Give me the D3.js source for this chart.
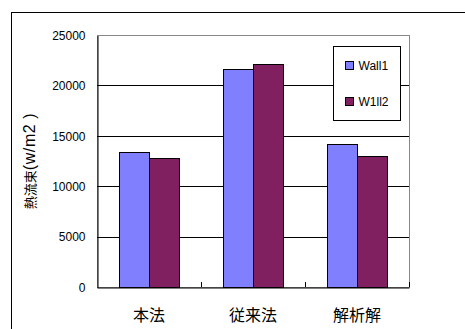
<!DOCTYPE html>
<html>
<head>
<meta charset="utf-8">
<script src="https://cdn.jsdelivr.net/npm/d3@7"></script>
<style>
  body { margin: 0; background: #fff; }
  svg { display: block; font-family: "Liberation Sans", Arial, sans-serif; }
</style>
</head>
<body>
<svg width="465" height="329"></svg>
<script>
// data
let categories = ['本法', '従来法', '解析解'];
let seriesNames = ['Wall1', 'W1ll2'];
let wall1 = [13420, 21600, 14150];
let w1ll2 = [12800, 22100, 13000];
let yTicks = [0, 5000, 10000, 15000, 20000, 25000];
let colors = ['#8080ff', '#802060'];

let svg = d3.select('svg');

// outer chart frame (runs off the right and bottom of the picture)
svg.append('rect')
  .attr('x', 11.5).attr('y', 12.5)
  .attr('width', 470).attr('height', 340)
  .attr('fill', 'none').attr('stroke', '#000');

let plot = { left: 97, right: 409, top: 35, bottom: 287 };

let x = d3.scaleBand()
  .domain(categories)
  .range([plot.left, plot.right]);

let xInner = d3.scaleBand()
  .domain(seriesNames)
  .range([0, x.bandwidth()])
  .paddingInner(0)
  .paddingOuter(0.7333);

let y = d3.scaleLinear()
  .domain([0, 25000])
  .range([plot.bottom, plot.top]);

let g = svg.append('g');

// plot border (grey top/right)
g.append('rect')
  .attr('x', plot.left + 0.5).attr('y', plot.top + 0.5)
  .attr('width', plot.right - plot.left).attr('height', plot.bottom - plot.top)
  .attr('fill', 'none').attr('stroke', '#888');

// gridlines
g.selectAll('.grid')
  .data(yTicks.filter(d => d > 0))
  .join('line')
    .attr('x1', plot.left).attr('x2', plot.right)
    .attr('y1', d => Math.round(y(d)) + 0.5)
    .attr('y2', d => Math.round(y(d)) + 0.5)
    .attr('stroke', d => d === 25000 ? '#888' : '#000');

// bars
let rows = categories.map((c, i) => ({ cat: c, values: [wall1[i], w1ll2[i]] }));

g.selectAll('.grp')
  .data(rows)
  .join('g')
    .attr('transform', d => `translate(${x(d.cat)},0)`)
  .selectAll('rect')
  .data(d => d.values.map((v, j) => ({ name: seriesNames[j], value: v, j: j })))
  .join('rect')
    .attr('x', d => Math.round(xInner(d.name)) + 0.5)
    .attr('y', d => Math.round(y(d.value)) + 0.5)
    .attr('width', Math.round(xInner.bandwidth()))
    .attr('height', d => plot.bottom - Math.round(y(d.value)))
    .attr('fill', d => colors[d.j])
    .attr('stroke', '#000')
    .attr('stroke-width', 1);

// y axis
let yAxis = g.append('g')
  .attr('transform', `translate(${plot.left + 0.5},0.5)`)
  .call(d3.axisLeft(y).tickValues(yTicks).tickSize(0).tickPadding(12).tickFormat(d3.format('d')));
yAxis.select('.domain').attr('stroke', '#000');
yAxis.selectAll('text')
  .attr('font-size', 12)
  .attr('fill', '#000')
  .attr('font-family', '"Liberation Sans", Arial, sans-serif');

// x axis with inward ticks at category boundaries
let xAxis = g.append('g')
  .attr('transform', `translate(0,${plot.bottom + 0.5})`)
  .call(d3.axisBottom(x).tickSize(0).tickPadding(22));
xAxis.select('.domain').attr('stroke', '#000');
xAxis.selectAll('text')
  .attr('font-size', 16)
  .attr('fill', '#000')
  .attr('font-family', '"Noto Sans CJK JP", sans-serif');

g.selectAll('.xtick')
  .data(categories.slice(1).concat(['end']))
  .join('line')
    .attr('x1', (d, i) => plot.left + x.step() * (i + 1) + 0.5)
    .attr('x2', (d, i) => plot.left + x.step() * (i + 1) + 0.5)
    .attr('y1', plot.bottom)
    .attr('y2', plot.bottom - 5)
    .attr('stroke', '#000');

// y axis title
let title = svg.append('text')
  .attr('transform', 'translate(35,161) rotate(-90)')
  .attr('text-anchor', 'middle');
title.append('tspan')
  .attr('font-size', 13)
  .attr('font-family', '"Noto Sans CJK JP", sans-serif')
  .text('熱流束');
title.append('tspan')
  .attr('font-size', 16)
  .attr('letter-spacing', 0.6)
  .attr('font-family', '"Liberation Sans", Arial, sans-serif')
  .text('(w/m2 )');

// legend
let legend = svg.append('g').attr('transform', 'translate(333.5,46.5)');
legend.append('rect')
  .attr('width', 67).attr('height', 74)
  .attr('fill', '#fff').attr('stroke', '#000');

let items = legend.selectAll('.item')
  .data(seriesNames)
  .join('g')
    .attr('transform', (d, i) => `translate(12,${19 + i * 36})`);
items.append('rect')
  .attr('x', 0).attr('y', -4)
  .attr('width', 8).attr('height', 8)
  .attr('fill', (d, i) => colors[i])
  .attr('stroke', '#000');
items.append('text')
  .attr('x', 13).attr('y', 0)
  .attr('dy', '0.36em')
  .attr('font-size', 12)
  .text(d => d);
</script>
</body>
</html>
